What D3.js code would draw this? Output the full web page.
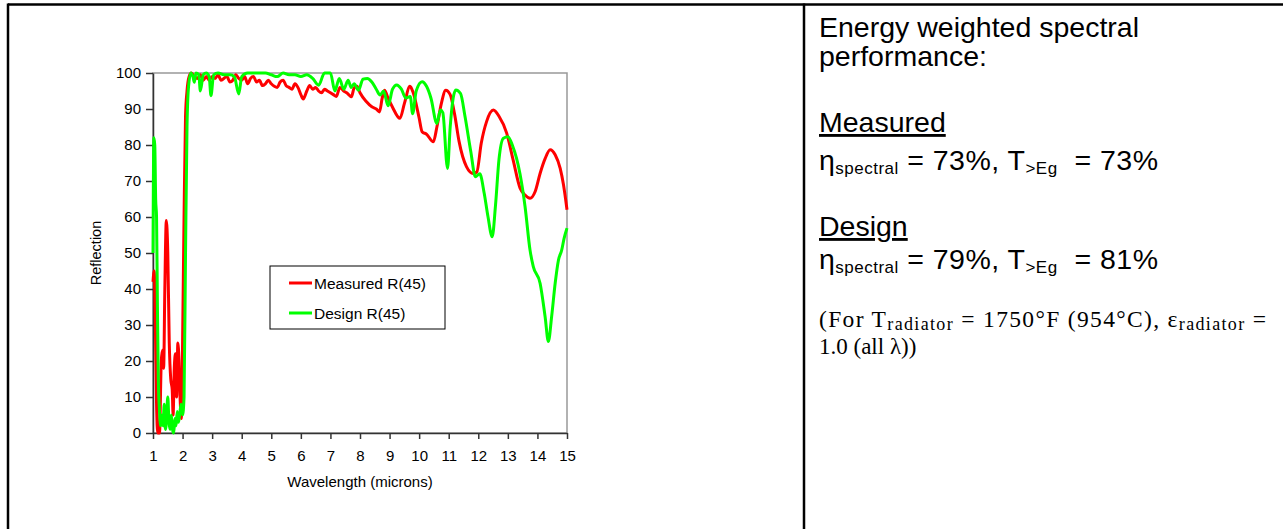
<!DOCTYPE html>
<html>
<head>
<meta charset="utf-8">
<script src="https://cdn.jsdelivr.net/npm/d3@7"></script>
<style>
  body { margin: 0; background: #fff; }
  svg { display: block; font-family: "Liberation Sans", Arial, sans-serif; }
  .axis path, .axis line { stroke: #333; stroke-width: 1.5; }
  .axis text { font-size: 15px; fill: #000; }
  .pre { white-space: pre; }
</style>
</head>
<body>
<svg id="chart" width="1283" height="529"></svg>
<script>
// measured reflection R(45)
const measuredX = [1.00, 1.04, 1.08, 1.12, 1.16, 1.22, 1.28, 1.32, 1.36, 1.40, 1.45, 1.50, 1.55, 1.60, 1.65,
  1.68, 1.72, 1.76, 1.80, 1.84, 1.88, 1.92, 1.96, 2.00, 2.05, 2.10, 2.15, 2.22, 2.30, 2.40, 2.50, 2.60,
  2.70, 2.80, 2.90, 3.00, 3.10, 3.20, 3.30, 3.50, 3.60, 3.70, 3.80, 3.90, 4.00, 4.10, 4.20, 4.30, 4.40,
  4.50, 4.60, 4.70, 4.80, 4.90, 5.00, 5.20, 5.30, 5.40, 5.50, 5.60, 5.70, 5.80, 5.90, 6.00, 6.08, 6.20,
  6.30, 6.40, 6.50, 6.60, 6.70, 6.80, 6.90, 7.00, 7.10, 7.20, 7.32, 7.45, 7.55, 7.71, 7.80, 7.90, 8.00,
  8.22, 8.40, 8.55, 8.66, 8.75, 8.83, 8.95, 9.10, 9.35, 9.50, 9.69, 9.80, 10.0, 10.1, 10.25, 10.48, 10.6,
  10.75, 10.9, 11.05, 11.2, 11.35, 11.6, 11.83, 11.95, 12.1, 12.28, 12.51, 12.7, 12.96, 13.18, 13.41,
  13.58, 13.75, 13.92, 14.09, 14.26, 14.43, 14.6, 14.77, 14.88, 15.0];
const measuredR = [42, 45, 30, 8, 0, 0, 20, 23, 18, 40, 59, 50, 25, 15, 12,
  5, 18, 22, 10, 25, 20, 9, 4, 25, 60, 88, 95, 99, 100, 99, 98.5, 99.5,
  98, 99, 98, 99, 98.5, 99.5, 98, 99, 97.5, 98, 99.5, 98.5, 98, 99, 97, 98.5, 99,
  97.5, 98, 96.5, 97, 98, 97, 96, 97.5, 98, 96.5, 96, 95.5, 97, 96, 94, 92.8, 95,
  96.5, 95.5, 96, 95, 94.5, 95.5, 95, 94.5, 94, 93.5, 96, 95, 94.5, 93.4, 95.8, 96.3, 94.5,
  92, 90.6, 90, 89.2, 93, 95.2, 93, 90.5, 87.4, 91.5, 96.3, 94.5, 87.5, 83.7, 83, 80.9, 85,
  91.5, 95.2, 94, 88.5, 81, 74, 72.1, 72.5, 80.5, 86.5, 89.7, 88, 83.3, 75.8, 68.1,
  66.1, 65.2, 67, 72.1, 76.2, 78.7, 77.3, 73.5, 69, 62];

// design reflection R(45)
const designX = [1.00, 1.03, 1.06, 1.09, 1.12, 1.15, 1.18, 1.22, 1.26, 1.30, 1.34, 1.38, 1.42, 1.46, 1.50,
  1.54, 1.58, 1.62, 1.66, 1.70, 1.74, 1.78, 1.82, 1.86, 1.90, 1.95, 2.00, 2.05, 2.10, 2.15, 2.20, 2.28,
  2.35, 2.40, 2.45, 2.55, 2.60, 2.70, 2.80, 2.90, 2.96, 3.05, 3.20, 3.40, 3.60, 3.75, 3.90, 4.00, 4.20,
  4.50, 4.80, 5.00, 5.20, 5.40, 5.60, 5.80, 6.00, 6.20, 6.40, 6.60, 6.80, 7.00, 7.15, 7.30, 7.45, 7.60,
  7.70, 7.80, 7.95, 8.10, 8.25, 8.40, 8.55, 8.68, 8.80, 8.95, 9.10, 9.24, 9.40, 9.55, 9.70, 9.78, 9.90,
  10.1, 10.25, 10.4, 10.6, 10.72, 10.8, 10.96, 11.05, 11.15, 11.24, 11.4, 11.55, 11.75, 11.9, 12.05,
  12.2, 12.33, 12.47, 12.58, 12.7, 12.85, 13.0, 13.15, 13.41, 13.58, 13.75, 13.86, 14.09, 14.26, 14.37,
  14.48, 14.6, 14.71, 14.82, 14.9, 15.0];
const designR = [50, 82, 80, 65, 60, 35, 15, 6, 2, 5, 2, 8, 1, 4, 10,
  3, 1, 5, 1, 0, 4, 2, 6, 3, 5, 8, 5, 10, 50, 85, 96, 100,
  99, 97.4, 100, 99.5, 95, 99.5, 100, 99, 93.7, 99.5, 100, 99.5, 99.5, 99, 94.2, 99, 100,
  100, 100, 99.5, 99, 100, 99.5, 99.5, 99, 99.5, 98.5, 96.6, 100, 100, 95, 98.5, 95.5, 98,
  96, 97, 95.2, 98.3, 98.5, 97.5, 95.5, 93.9, 95, 90.9, 95.5, 96.7, 95.5, 93, 93.5, 88.7, 95,
  97.6, 96.3, 93, 86, 89.7, 89, 73.5, 85, 93, 95.3, 94.3, 88, 78, 71.2, 72,
  66.6, 60, 54.5, 63, 76, 81.9, 82.3, 80, 72, 63, 50.8, 46.2, 41.6, 32.3, 25.4,
  32.3, 41.6, 48, 50.8, 54, 56.9];

const xTicks = d3.range(1, 16);
const yTicks = d3.range(0, 101, 10);
const seriesNames = ["Measured R(45)", "Design R(45)"];
const seriesColors = ["#ff0000", "#00ff00"];

const svg = d3.select("#chart");

// table borders
svg.append("line").attr("x1", 8).attr("x2", 1283).attr("y1", 4.5).attr("y2", 4.5)
  .attr("stroke", "#000").attr("stroke-width", 2.5);
svg.append("line").attr("x1", 8).attr("x2", 8).attr("y1", 3.5).attr("y2", 529)
  .attr("stroke", "#000").attr("stroke-width", 2.5);
svg.append("line").attr("x1", 804).attr("x2", 804).attr("y1", 3.5).attr("y2", 529)
  .attr("stroke", "#000").attr("stroke-width", 2.5);

const x = d3.scaleLinear().domain([1, 15]).range([153, 567]);
const y = d3.scaleLinear().domain([0, 100]).range([433, 73]);

// plot area frame
svg.append("rect")
  .attr("x", x(1)).attr("y", y(100))
  .attr("width", x(15) - x(1)).attr("height", y(0) - y(100))
  .attr("fill", "none").attr("stroke", "#999").attr("stroke-width", 1.5);

svg.append("g").attr("class", "axis")
  .attr("transform", `translate(0,${y(0)})`)
  .call(d3.axisBottom(x).tickValues(xTicks).tickSize(6).tickSizeOuter(0).tickPadding(11));
svg.append("g").attr("class", "axis")
  .attr("transform", `translate(${x(1)},0)`)
  .call(d3.axisLeft(y).tickValues(yTicks).tickSize(7).tickSizeOuter(0).tickPadding(5));

svg.append("text").attr("x", (x(1) + x(15)) / 2).attr("y", 487)
  .attr("text-anchor", "middle").attr("font-size", 15).text("Wavelength (microns)");
svg.append("text")
  .attr("transform", `translate(101,${(y(0) + y(100)) / 2}) rotate(-90)`)
  .attr("text-anchor", "middle").attr("font-size", 14.5).text("Reflection");

const line = d3.line().x(d => x(d[0])).y(d => y(d[1])).curve(d3.curveMonotoneX);
const measured = measuredX.map((v, i) => [v, measuredR[i]]);
const design = designX.map((v, i) => [v, designR[i]]);

[measured, design].forEach((data, i) => {
  svg.append("path").datum(data)
    .attr("d", line)
    .attr("fill", "none")
    .attr("stroke", seriesColors[i])
    .attr("stroke-width", 3)
    .attr("stroke-linejoin", "round");
});

// legend
const legend = svg.append("g").attr("transform", "translate(270,266)");
legend.append("rect").attr("width", 175).attr("height", 63)
  .attr("fill", "#fff").attr("stroke", "#000").attr("stroke-width", 1);
seriesNames.forEach((name, i) => {
  const row = legend.append("g").attr("transform", `translate(0,${17 + i * 30})`);
  row.append("line").attr("x1", 19).attr("x2", 42)
    .attr("stroke", seriesColors[i]).attr("stroke-width", 3);
  row.append("text").attr("x", 44).attr("y", 5.5).attr("font-size", 15.5).text(name);
});

// right panel text
const panel = svg.append("g").attr("transform", "translate(819,0)");
const big = 28.5, sub = 17;

panel.append("text").attr("y", 37).attr("font-size", big).text("Energy weighted spectral");
panel.append("text").attr("y", 66).attr("font-size", big).text("performance:");

function perfBlock(title, ty, gap, eta, teg) {
  panel.append("text").attr("y", ty).attr("font-size", big)
    .style("text-decoration", "underline").text(title);
  const t = panel.append("text").attr("class", "pre").attr("y", ty + gap).attr("font-size", big)
    .attr("textLength", 339).attr("lengthAdjust", "spacing");
  t.append("tspan").text("\u03b7");
  t.append("tspan").attr("font-size", sub).attr("dy", 4).text("spectral");
  t.append("tspan").attr("dy", -4).text(` = ${eta}%, T`);
  t.append("tspan").attr("font-size", sub).attr("dy", 4).text(">Eg");
  t.append("tspan").attr("dy", -4).text(`  = ${teg}%`);
}
perfBlock("Measured", 132, 38, 73, 73);
perfBlock("Design", 236, 33, 79, 81);

const serif = '"Liberation Serif", "Times New Roman", serif';
const n1 = panel.append("text").attr("class", "pre").attr("y", 327).attr("font-size", 23.5)
  .attr("font-family", serif).attr("textLength", 447).attr("lengthAdjust", "spacing");
n1.append("tspan").text("(For T");
n1.append("tspan").attr("font-size", 18).attr("dy", 3).text("radiator");
n1.append("tspan").attr("dy", -3).text(" = 1750\u00b0F (954\u00b0C), \u03b5");
n1.append("tspan").attr("font-size", 18).attr("dy", 3).text("radiator");
n1.append("tspan").attr("dy", -3).text(" =");
panel.append("text").attr("y", 354).attr("font-size", 23).attr("font-family", serif)
  .text("1.0 (all \u03bb))");
</script>
</body>
</html>
